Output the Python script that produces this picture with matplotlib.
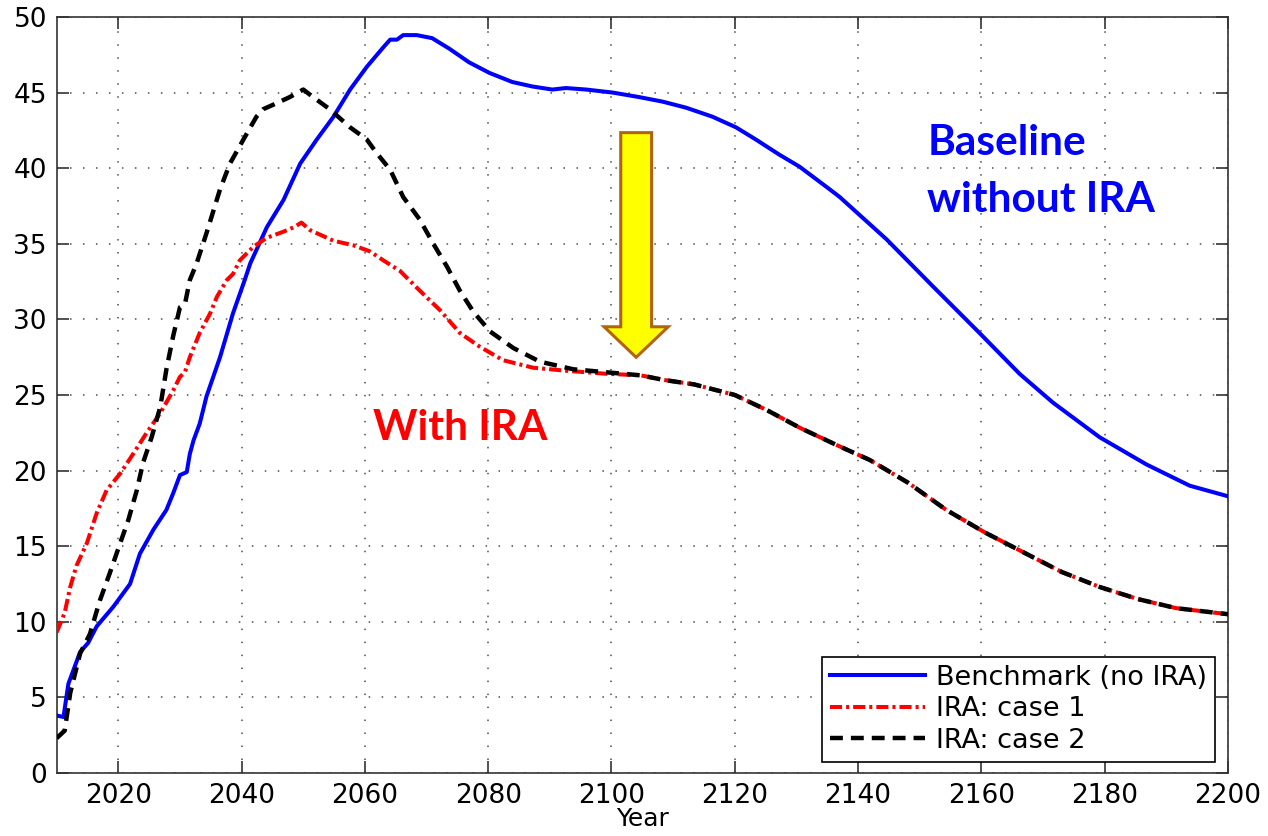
"""
IRA scenario comparison chart: benchmark vs two IRA cases, 2010-2200.
"""

import matplotlib
matplotlib.use('Agg')
import matplotlib.pyplot as plt
from matplotlib.patches import FancyArrow

# ---- data ----
benchmark_years = [2010, 2011.1, 2011.9, 2013.8, 2015.1, 2016.5, 2019.2, 2021.9,
                   2023.5, 2025.7, 2027.8, 2028.9, 2030.0, 2031.1, 2031.6, 2032.2,
                   2033.2, 2034.3, 2036.5, 2038.6, 2040.5, 2041.4, 2044.1, 2046.8,
                   2049.5, 2052.2, 2054.9, 2057.6, 2060.3, 2063.0, 2064.1, 2065.2,
                   2066.2, 2068.4, 2070.9, 2073.7, 2076.9, 2080.2, 2083.9, 2087.2,
                   2090.4, 2092.6, 2095.9, 2100.2, 2104.5, 2108.3, 2112.1, 2116.4,
                   2120.2, 2123.4, 2127.2, 2130.5, 2135.4, 2137.0, 2144.6, 2152.1,
                   2159.7, 2166.2, 2171.6, 2179.2, 2186.8, 2193.8, 2200]
benchmark_vals = [3.8, 3.7, 5.9, 8.0, 8.6, 9.7, 11.0, 12.5,
                  14.5, 16.1, 17.4, 18.5, 19.7, 19.9, 21.1, 22.0,
                  23.1, 24.9, 27.5, 30.4, 32.6, 33.7, 36.1, 37.9,
                  40.3, 41.9, 43.4, 45.2, 46.7, 48.0, 48.5, 48.5,
                  48.8, 48.8, 48.6, 47.9, 47.0, 46.3, 45.7, 45.4,
                  45.2, 45.3, 45.2, 45.0, 44.7, 44.4, 44.0, 43.4,
                  42.7, 41.9, 40.9, 40.1, 38.6, 38.1, 35.3, 32.2,
                  29.1, 26.4, 24.5, 22.2, 20.4, 19.0, 18.3]

case1_years = [2010, 2011.3, 2012.2, 2013.2, 2014.9, 2016.5, 2018.1, 2020.3,
               2022.4, 2024.6, 2026.8, 2028.9, 2030.0, 2030.8, 2031.6, 2033.2,
               2034.9, 2036.0, 2037.6, 2038.6, 2039.7, 2041.9, 2044.1, 2046.8,
               2048.5, 2049.7, 2051.1, 2054.9, 2058.1, 2060.8, 2063.0, 2065.7,
               2068.9, 2072.2, 2075.4, 2078.6, 2082.4, 2087.3, 2092.7, 2099.2,
               2104.7, 2108.4, 2113.4, 2120, 2125.2, 2130.7, 2137.0, 2141.9,
               2148.1, 2154.3, 2160.6, 2166.8, 2173.0, 2179.2, 2185.4, 2191.6,
               2200]
case1_vals = [9.3, 10.6, 12.3, 13.7, 15.2, 17.2, 18.7, 19.8,
              21.1, 22.5, 23.8, 25.3, 26.2, 26.5, 27.5, 29.1,
              30.4, 31.5, 32.6, 33.0, 33.9, 34.8, 35.4, 35.8,
              36.1, 36.4, 35.9, 35.2, 34.9, 34.5, 33.9, 33.2,
              31.9, 30.6, 29.1, 28.2, 27.3, 26.8, 26.6, 26.4,
              26.3, 26.0, 25.7, 25.0, 24.0, 22.8, 21.6, 20.7,
              19.2, 17.4, 15.9, 14.6, 13.3, 12.3, 11.5, 10.9,
              10.5]

case2_years = [2010, 2011.3, 2012.2, 2013.8, 2015.4, 2017.0, 2018.6, 2020.3,
               2021.6, 2023.0, 2024.0, 2025.4, 2026.8, 2027.8, 2028.9, 2030.0,
               2030.8, 2031.6, 2032.7, 2034.3, 2036.5, 2038.1, 2040.3, 2042.4,
               2043.5, 2045.7, 2047.8, 2050.0, 2051.6, 2054.3, 2057.6, 2060.3,
               2061.9, 2064.1, 2066.2, 2068.9, 2071.1, 2073.3, 2075.4, 2077.6,
               2080.3, 2084.1, 2088.4, 2093.8, 2099.2, 2104.7, 2108.4, 2113.4,
               2120, 2125.2, 2130.7, 2137.0, 2141.9, 2148.1, 2154.3, 2160.6,
               2166.8, 2173.0, 2179.2, 2185.4, 2191.6, 2200]
case2_vals = [2.3, 2.8, 5.3, 7.9, 9.2, 11.4, 13.2, 15.2,
              16.7, 18.7, 20.5, 22.2, 24.2, 26.7, 28.9, 30.8,
              31.0, 32.6, 33.7, 35.7, 38.6, 40.3, 41.9, 43.4,
              43.9, 44.3, 44.7, 45.2, 44.7, 43.9, 42.7, 41.9,
              41.0, 39.9, 38.1, 36.6, 35.0, 33.5, 31.9, 30.5,
              29.2, 28.1, 27.2, 26.7, 26.5, 26.3, 26.0, 25.7,
              25.0, 24.0, 22.8, 21.6, 20.7, 19.2, 17.4, 15.9,
              14.6, 13.3, 12.3, 11.5, 10.9, 10.5]

series_labels = ['Benchmark (no IRA)', 'IRA: case 1', 'IRA: case 2']
x_ticks = list(range(2020, 2201, 20))
y_ticks = list(range(0, 51, 5))


def main():
    fig = plt.figure(figsize=(12.68, 8.36), dpi=100)
    ax = fig.add_axes([0.0447, 0.0754, 0.9237, 0.9043])

    # Series
    ax.plot(benchmark_years, benchmark_vals, color='#0000FF', linewidth=2.9,
            label=series_labels[0], zorder=3)
    ax.plot(case1_years, case1_vals, color='#FF0000', linewidth=2.9,
            dashes=[3.0, 1.0, 0.75, 1.0], label=series_labels[1], zorder=3)
    ax.plot(case2_years, case2_vals, color='black', linewidth=3.2,
            dashes=[2.9, 1.8], label=series_labels[2], zorder=4)

    # Axes formatting (MATLAB-ish look)
    ax.set_xlim(2010, 2200)
    ax.set_ylim(0, 50)
    ax.set_xticks(x_ticks)
    ax.set_yticks(y_ticks)
    ax.tick_params(direction='in', length=8.5, width=1.2, top=True, right=True,
                   labelsize=19, pad=7, color='#333333')
    ax.set_xlabel('Year', fontsize=18, labelpad=-1)
    for sp in ax.spines.values():
        sp.set_linewidth(1.2)
        sp.set_color('#333333')
    ax.grid(True, color='0.3', linestyle=(0, (1, 7.5)), linewidth=1.1)
    ax.set_axisbelow(True)

    # Yellow arrow
    arrow = FancyArrow(2104.0, 42.35, 0, -14.86, width=5.0, head_width=10.4,
                       head_length=2.02, length_includes_head=True,
                       facecolor='#FFFF00', edgecolor='#B0640F',
                       linewidth=2.2, zorder=5)
    ax.add_patch(arrow)

    # Annotations
    ax.text(2151.25, 40.87, 'Baseline', color='#0000FF', fontsize=30.5,
            fontweight='bold', family='Lato', ha='left', va='baseline')
    ax.text(2151.25, 37.12, 'without IRA', color='#0000FF', fontsize=30.5,
            fontweight='bold', family='Lato', ha='left', va='baseline')
    ax.text(2061.35, 22.02, 'With IRA', color='#FF0000', fontsize=30.5,
            fontweight='bold', family='Lato', ha='left', va='baseline')

    leg = ax.legend(loc='lower right', bbox_to_anchor=(0.989, 0.0146),
                    borderaxespad=0, fontsize=19.5, fancybox=False,
                    framealpha=1, edgecolor='black', handlelength=3.5,
                    handletextpad=0.4, labelspacing=0.2, borderpad=0.3)
    leg.get_frame().set_linewidth(1.2)

    fig.savefig('out.png', dpi=100)
    plt.close(fig)


if __name__ == '__main__':
    main()
